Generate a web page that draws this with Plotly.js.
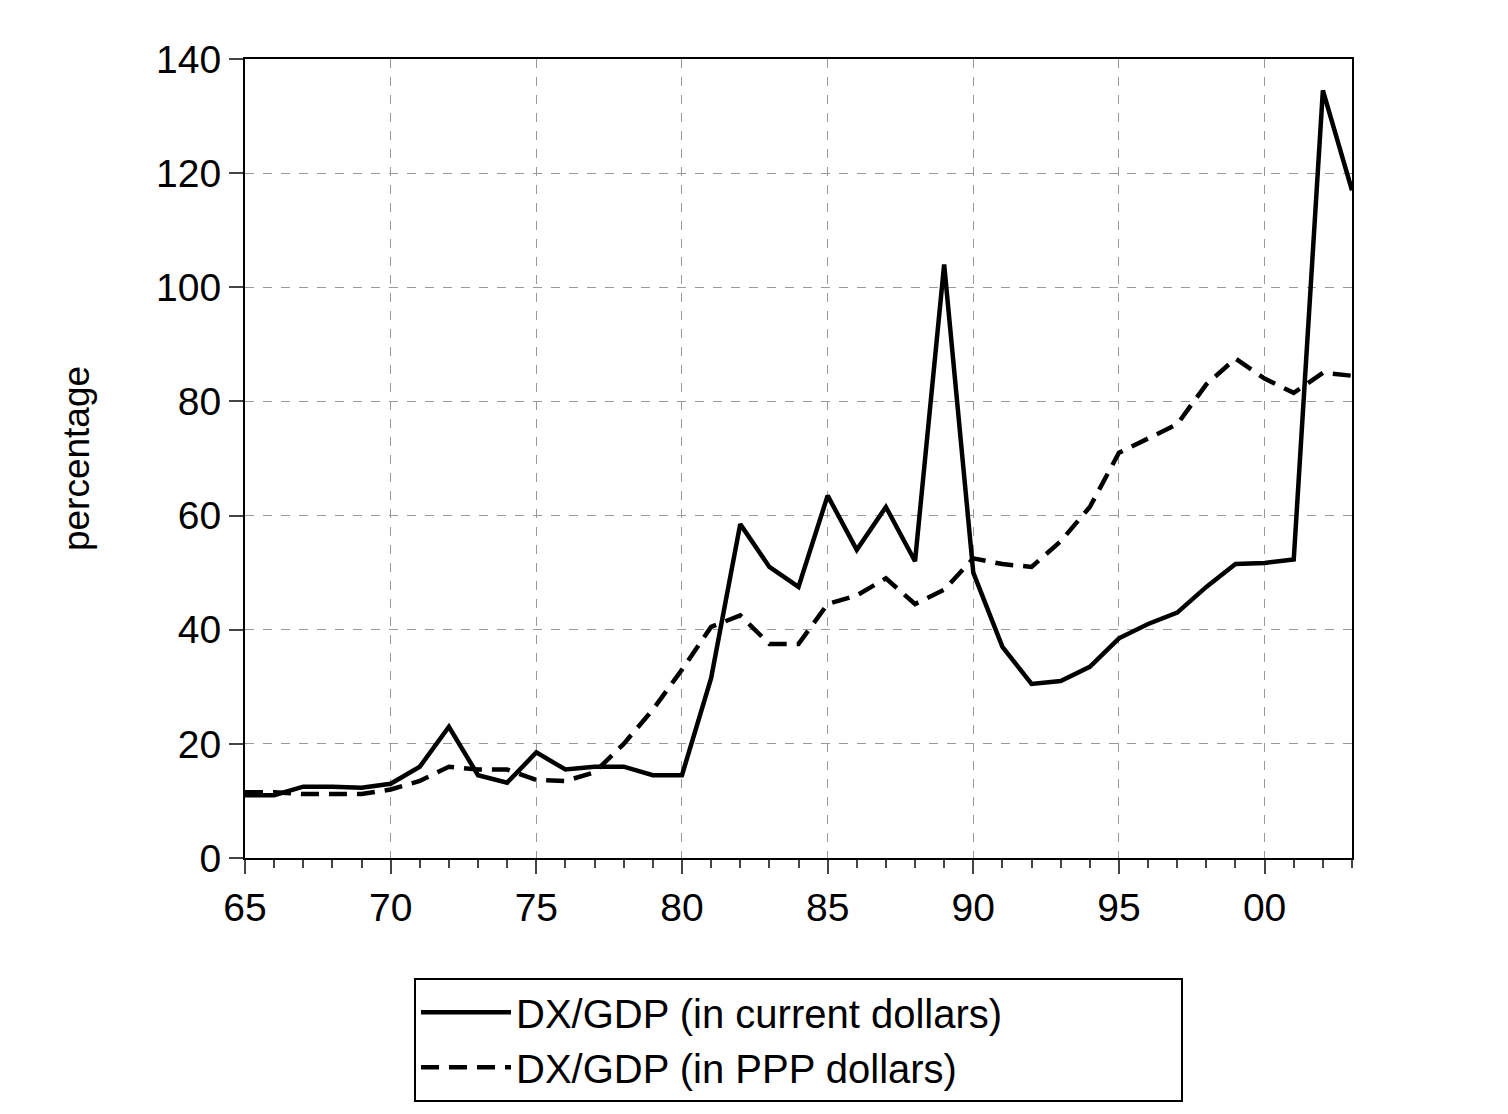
<!DOCTYPE html>
<html><head><script src="https://cdn.plot.ly/plotly-3.0.1.min.js"></script>
<style>body{margin:0}</style></head><body>
<div id="c" style="width:1508px;height:1114px"></div>
<script>
const years=[];for(let y=1965;y<=2003;y++)years.push(y);
const current=[11,11,12.5,12.5,12.3,13,16,23,14.5,13.2,18.5,15.5,16,16,14.5,14.5,31.5,58.5,51,47.5,63.5,54,61.5,52,104,50,37,30.5,31,33.5,38.5,41,43,47.5,51.5,51.7,52.3,134.5,117];
const ppp=[11.5,11.5,11.2,11.2,11.2,12,13.5,16,15.5,15.5,13.7,13.5,15,20,26,33,40.5,42.5,37.5,37.5,44.5,46,49,44.5,47,52.5,51.5,51,55.5,61.5,71,73.5,76,83,87.5,84,81.5,85,84.5];
const tickVals=[1965,1970,1975,1980,1985,1990,1995,2000];
const tickText=["65","70","75","80","85","90","95","00"];
const F='"Liberation Sans", Arial, sans-serif';
Plotly.newPlot('c',[
{x:years,y:current,mode:'lines',name:'DX/GDP (in current dollars)',line:{color:'#000',width:4.5}},
{x:years,y:ppp,mode:'lines',name:'DX/GDP (in PPP dollars)',line:{color:'#000',width:4.5,dash:'18px,10px'}}
],{
width:1508,height:1114,margin:{l:245,r:156,t:59,b:227},
paper_bgcolor:'#fff',plot_bgcolor:'#fff',font:{family:F,color:'#000'},
xaxis:{range:[1965,2003],tickvals:tickVals,ticktext:tickText,ticks:'outside',ticklen:14,tickwidth:2,
 tickfont:{size:39},showline:true,linewidth:2,linecolor:'#000',mirror:true,
 showgrid:true,gridcolor:'#999',griddash:'dash',gridwidth:1,zeroline:false,
 minor:{dtick:1,tick0:1965,ticks:'outside',ticklen:8,tickwidth:2,showgrid:false}},
yaxis:{range:[0,140],dtick:20,ticks:'outside',ticklen:14,tickwidth:2,tickfont:{size:39},
 showline:true,linewidth:2,linecolor:'#000',mirror:true,showgrid:true,gridcolor:'#999',griddash:'dash',gridwidth:1,zeroline:false,
 title:{text:'percentage',font:{size:37},standoff:55}},
showlegend:true,
legend:{orientation:'h',x:0.5,xanchor:'center',y:-0.15,yanchor:'top',bordercolor:'#000',borderwidth:2,
 font:{size:40},itemwidth:90,entrywidth:660,traceorder:'normal'}
},{staticPlot:true});
</script></body></html>
